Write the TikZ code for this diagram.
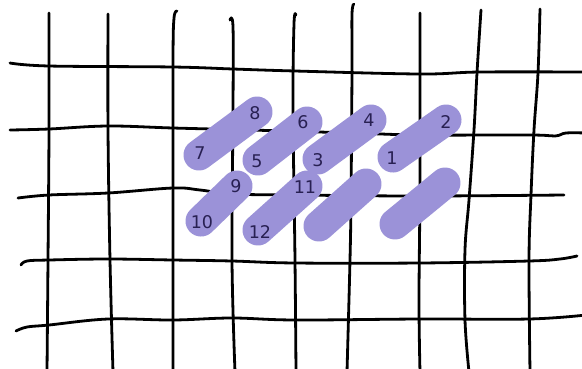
\documentclass[tikz,border=0pt]{standalone}
\usepackage{fontspec}
\newfontfamily\labelfont{DejaVu Sans}
\definecolor{pillcol}{RGB}{155,146,216}
\definecolor{numcol}{RGB}{40,32,82}
\begin{document}
\begin{tikzpicture}[x=1pt,y=-1pt,
  gridline/.style={line width=2.8pt,black,line cap=round,line join=round},
  pill/.style={line width=31pt,pillcol,line cap=round},
  num/.style={font=\labelfont\fontsize{17.5}{17.5}\selectfont,text=numcol,inner sep=0pt}]
\useasboundingbox (0,0) rectangle (582,368);
\fill[white] (0,0) rectangle (582,368);
\clip (0,0) rectangle (582,368);
% vertical lines
\draw[gridline] plot[smooth,tension=0.6] coordinates {(49,13) (49,130) (48,260) (47,372)};
\draw[gridline] plot[smooth,tension=0.6] coordinates {(108,14) (108,130) (110,260) (113,372)};
\draw[gridline] plot[smooth,tension=0.6] coordinates {(177,11) (174,18) (173,60) (173,200) (173,372)};
\draw[gridline] plot[smooth,tension=0.6] coordinates {(230,20) (233,27) (233,110) (232,260) (235,372)};
\draw[gridline] plot[smooth,tension=0.6] coordinates {(296,15) (294,24) (293,110) (295,260) (296,372)};
\draw[gridline] plot[smooth,tension=0.6] coordinates {(354,4) (352,14) (352,70) (351,200) (350,260) (347,372)};
\draw[gridline] plot[smooth,tension=0.6] coordinates {(420,13) (420,180) (419,300) (420,372)};
\draw[gridline] plot[smooth,tension=0.6] coordinates {(481,10) (477,73) (474,130) (469,200) (465,250) (465,320) (469,372)};
\draw[gridline] plot[smooth,tension=0.6] coordinates {(540,9) (538,73) (534,130) (531,195) (529,260) (530,372)};
% horizontal lines
\draw[gridline] plot[smooth,tension=0.6] coordinates {(10,63) (49,66) (173,67) (233,69) (295,71) (420,74) (480,72) (586,72)};
\draw[gridline] plot[smooth,tension=0.6] coordinates {(10,130) (49,129) (108,126) (173,128) (250,130) (353,133) (420,135) (531,135) (555,136) (566,133) (586,133)};
\draw[gridline] plot[smooth,tension=0.6] coordinates {(18,198) (49,195) (108,193) (173,188) (200,190) (233,194) (295,195) (420,196) (564,195)};
\draw[gridline] plot[smooth,tension=0.6] coordinates {(21,265) (27,261) (49,260) (108,259) (173,260) (232,261) (295,263) (420,263) (529,261) (560,259) (577,256)};
\draw[gridline] plot[smooth,tension=0.6] coordinates {(16,331) (27,327) (49,325) (108,319) (173,320) (232,318) (295,320) (420,319) (529,319) (586,315)};
% pill end points
\coordinate (a1) at (199,155); \coordinate (a2) at (257,112);
\coordinate (b1) at (258,160); \coordinate (b2) at (307,122);
\coordinate (c1) at (318,159); \coordinate (c2) at (371,120);
\coordinate (d1) at (393,157); \coordinate (d2) at (446,120);
\coordinate (e1) at (201,221); \coordinate (e2) at (237,186);
\coordinate (f1) at (258,230); \coordinate (f2) at (307,186);
\coordinate (g1) at (319,226); \coordinate (g2) at (366,184);
\coordinate (h1) at (395,224); \coordinate (h2) at (445,183);
% pills
\draw[pill] (a1) -- (a2);
\draw[pill] (b1) -- (b2);
\draw[pill] (c1) -- (c2);
\draw[pill] (d1) -- (d2);
\draw[pill] (e1) -- (e2);
\draw[pill] (f1) -- (f2);
\draw[pill] (g1) -- (g2);
\draw[pill] (h1) -- (h2);
% labels
\node[num] (n1) at (392,158) {1};
\node[num] (n2) at (446,122) {2};
\node[num] (n3) at (318,160) {3};
\node[num] (n4) at (369,120) {4};
\node[num] (n5) at (257,161) {5};
\node[num] (n6) at (303,122) {6};
\node[num] (n7) at (200,153) {7};
\node[num] (n8) at (255,113) {8};
\node[num] (n9) at (236,186) {9};
\node[num] (n10) at (202,222) {10};
\node[num] (n11) at (305,187) {11};
\node[num] (n12) at (260,232) {12};
\end{tikzpicture}
\end{document}
